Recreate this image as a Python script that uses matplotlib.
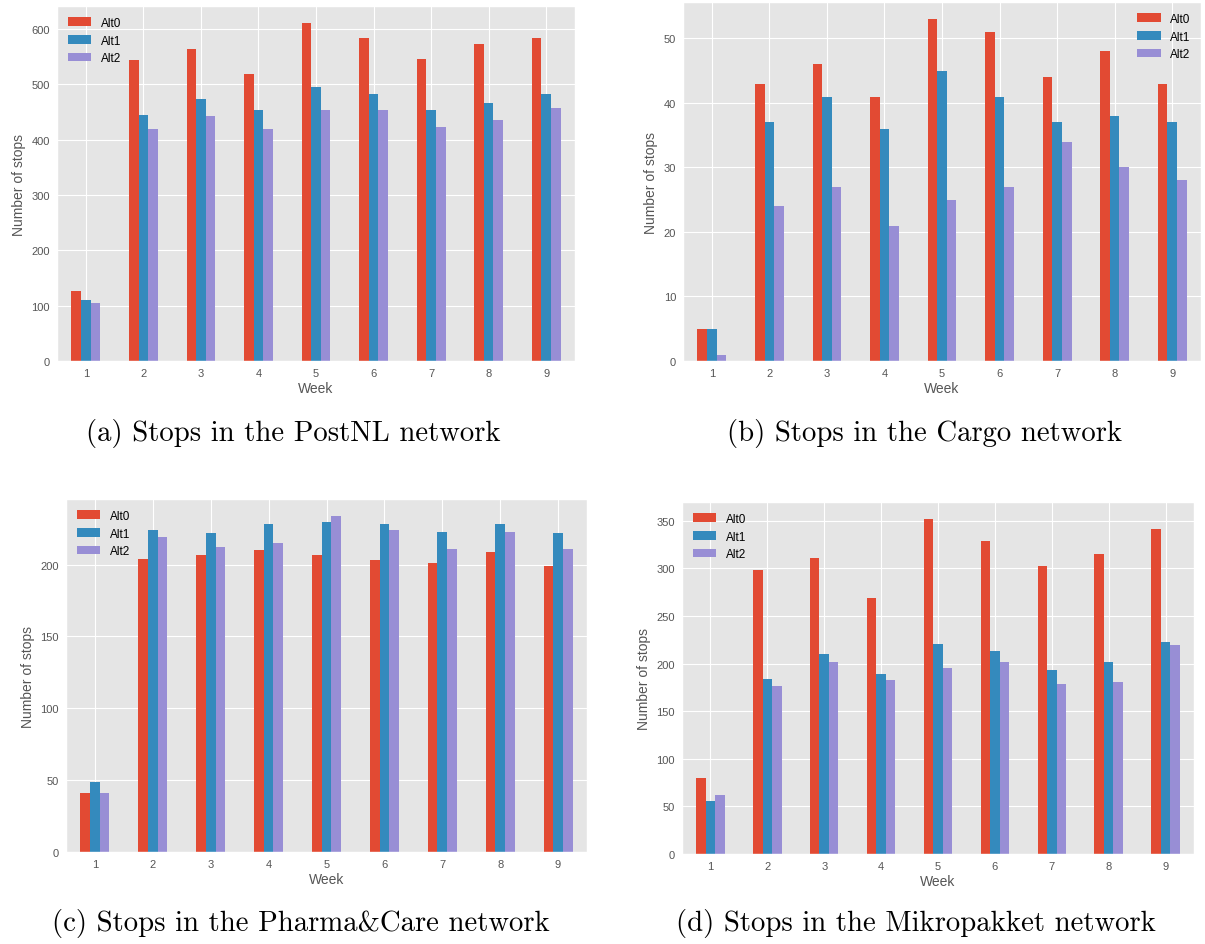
import numpy as np
import matplotlib
matplotlib.use("Agg")
import matplotlib.pyplot as plt
from matplotlib.ticker import MultipleLocator

plt.style.use("ggplot")
plt.rcParams["font.family"] = ["Liberation Sans", "DejaVu Sans"]

weeks = ["1", "2", "3", "4", "5", "6", "7", "8", "9"]
series_names = ["Alt0", "Alt1", "Alt2"]

postnl_alt0 = [126, 544, 563, 519, 611, 583, 546, 573, 583]
postnl_alt1 = [111, 445, 473, 453, 495, 482, 453, 467, 482]
postnl_alt2 = [104, 419, 442, 419, 453, 453, 423, 435, 458]

cargo_alt0 = [5, 43, 46, 41, 53, 51, 44, 48, 43]
cargo_alt1 = [5, 37, 41, 36, 45, 41, 37, 38, 37]
cargo_alt2 = [1, 24, 27, 21, 25, 27, 34, 30, 28]

pharma_alt0 = [41, 204, 207, 210, 207, 203, 201, 209, 199]
pharma_alt1 = [49, 224, 222, 228, 230, 228, 223, 228, 222]
pharma_alt2 = [41, 219, 212, 215, 234, 224, 211, 223, 211]

mikro_alt0 = [80, 298, 311, 269, 352, 329, 302, 315, 341]
mikro_alt1 = [56, 184, 210, 189, 221, 213, 193, 202, 223]
mikro_alt2 = [62, 176, 202, 183, 195, 202, 178, 181, 219]

captions = [
    "(a) Stops in the PostNL network",
    "(b) Stops in the Cargo network",
    "(c) Stops in the Pharma&Care network",
    "(d) Stops in the Mikropakket network",
]

colors = ["#E24A33", "#348ABD", "#988ED5"]

W, H = 1205, 945
fig = plt.figure(figsize=(W / 100, H / 100), dpi=100)

def px_axes(left, top, right, bottom):
    return fig.add_axes([left / W, 1 - bottom / H, (right - left) / W, (bottom - top) / H])

panels = [
    dict(box=(57, 7, 575, 362), data=[postnl_alt0, postnl_alt1, postnl_alt2], step=100,
         loc="upper left", cap=(293, 433)),
    dict(box=(683, 3, 1201, 362), data=[cargo_alt0, cargo_alt1, cargo_alt2], step=10,
         loc="upper right", cap=(925, 433)),
    dict(box=(66, 500, 587, 853), data=[pharma_alt0, pharma_alt1, pharma_alt2], step=50,
         loc="upper left", cap=(301, 923)),
    dict(box=(682, 503, 1194, 855), data=[mikro_alt0, mikro_alt1, mikro_alt2], step=50,
         loc="upper left", cap=(916, 923)),
]

x = np.arange(len(weeks))
bw = 0.5 / 3

for p, cap in zip(panels, captions):
    ax = px_axes(*p["box"])
    for i, (vals, name, c) in enumerate(zip(p["data"], series_names, colors)):
        ax.bar(x + (i - 1) * bw, vals, width=bw, color=c, label=name, linewidth=0)
    ax.set_xlim(-0.5, len(weeks) - 0.5)
    ax.set_xticks(x)
    ax.set_xticklabels(weeks)
    ax.yaxis.set_major_locator(MultipleLocator(p["step"]))
    ax.tick_params(axis="both", length=0, labelsize=8, colors="#555555", pad=5)
    ax.set_xlabel("Week", fontsize=10, color="#555555", labelpad=2)
    ax.set_ylabel("Number of stops", fontsize=10, color="#555555")
    ax.legend(loc=p["loc"], frameon=False, fontsize=8.5)
    cx, cy = p["cap"]
    fig.text(cx / W, 1 - cy / H, cap, family="cmr10", fontsize=20.7,
             ha="center", va="center", color="black")

fig.savefig("out.png", dpi=100)
